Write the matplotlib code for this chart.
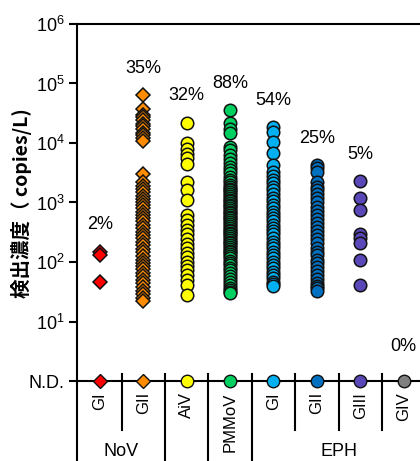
import matplotlib.pyplot as plt
import matplotlib.transforms as mtransforms
import numpy as np

plt.rcParams['font.family'] = ['Liberation Sans', 'DejaVu Sans']
plt.rcParams['mathtext.default'] = 'regular'

# detected concentrations (copies/L); N.D. samples are drawn at 10^0
nov_gi = [150, 132, 46]
nov_gii = [64000, 37000, 30000, 27000, 24000, 21000, 19000, 17000, 15000, 13500,
           12000, 11000,
           3000, 2200, 1900, 1700, 1500, 1300, 1150, 1000, 900, 800, 700, 620, 550,
           480, 420, 370, 320, 280, 250, 220, 190, 165, 145, 125, 110, 95, 85, 75,
           66, 58, 50, 44, 38, 33, 29, 25, 22]
aiv = [22000, 10000, 8000, 6500, 5500, 4500, 2200, 1600, 1100, 620, 500, 420, 350,
       290, 240, 200, 170, 140, 120, 100, 85, 72, 60, 50, 41, 28]
pmmov = [36000, 22000, 17000, 15000, 8700, 7500, 6300, 5400, 4600, 4000, 3500,
         3100, 2700, 2400, 2200, 2000, 1850, 1700, 1600, 1500, 1400, 1300, 1200,
         1120, 1050, 980, 920, 860, 800, 750, 700, 660, 620, 580, 540, 500, 470,
         440, 410, 380, 350, 330, 310, 290, 270, 250, 235, 220, 205, 190, 178, 165,
         155, 145, 135, 125, 115, 105, 95, 88, 80, 72, 65, 58, 52, 46, 41, 37, 34,
         31, 30]
eph_gi = [18600, 15500, 10500, 6700, 4300, 3300, 2800, 2400, 2100, 1800, 1600,
          1400, 1200, 1050, 920, 800, 700, 620, 550, 480, 420, 370, 330, 290, 250,
          220, 195, 170, 150, 130, 115, 100, 88, 78, 68, 60, 53, 47, 42, 39]
eph_gii = [4300, 3800, 3300, 2250, 1850, 1600, 1400, 1200, 1000, 850, 720, 620,
           530, 450, 390, 330, 280, 240, 205, 175, 150, 130, 110, 95, 82, 70, 60,
           52, 45, 40, 36, 33]
eph_giii = [2300, 1180, 740, 300, 250, 205, 107, 41]
eph_giv = []

series = [nov_gi, nov_gii, aiv, pmmov, eph_gi, eph_gii, eph_giii, eph_giv]
cat_labels = ['GI', 'GII', 'AiV', 'PMMoV', 'GI', 'GII', 'GIII', 'GIV']
pct_labels = ['2%', '35%', '32%', '88%', '54%', '25%', '5%', '0%']
colors = ['#ff0000', '#ff8c00', '#ffff00', '#00d060', '#00b0f0', '#0070c0',
          '#5b48b8', '#808080']
markers = ['D', 'D', 'o', 'o', 'o', 'o', 'o', 'o']
groups = [('NoV', -0.53, 1.5), ('EPH', 3.5, 7.5)]

fig = plt.figure(figsize=(4.2, 4.61), dpi=100)
ax = fig.add_axes([0.1833, 0.1735, 0.881, 0.7745])
ax.set_yscale('log')
ax.set_ylim(1, 1e6)
ax.set_xlim(-0.53, 8.0)

for i, vals in enumerate(series):
    ms = 7.2 if markers[i] == 'D' else 9
    if vals:
        ax.plot(np.full(len(vals), i), vals, linestyle='none', marker=markers[i],
                ms=ms, mfc=colors[i], mec='#111111', mew=1.1, zorder=3)
        top = max(vals) * 10 ** 0.45
    else:
        top = 10 ** 0.58
    # N.D. marker on the baseline
    ax.plot([i], [1], linestyle='none', marker=markers[i], ms=ms, mfc=colors[i],
            mec='#111111', mew=1.0, zorder=4, clip_on=False)
    ax.text(i, top, pct_labels[i], ha='center', va='center', fontsize=13)

ax.set_yticks([1, 1e1, 1e2, 1e3, 1e4, 1e5, 1e6])
ax.set_yticklabels(['N.D.'] + [f'$10^{{{k}}}$' for k in range(1, 7)])
ax.yaxis.set_minor_locator(plt.NullLocator())
ax.tick_params(axis='y', direction='out', length=6, width=1.5, labelsize=13, pad=3)

ax.set_xticks(range(len(cat_labels)))
ax.set_xticklabels(cat_labels, rotation=90, va='top', fontsize=12)
ax.tick_params(axis='x', length=0, pad=8)

ax.spines['right'].set_visible(False)
for side in ['left', 'bottom', 'top']:
    ax.spines[side].set_linewidth(1.5)

# separators under the baseline
trans = mtransforms.blended_transform_factory(ax.transData, ax.transAxes)
short_seps = [0.5, 4.5, 5.5, 6.5]
long_seps = [-0.53, 1.5, 2.5, 3.5, 7.5]
for x in short_seps:
    ax.plot([x, x], [0.02, -0.137], transform=trans, color='black', lw=1.5,
            clip_on=False)
for x in long_seps:
    ax.plot([x, x], [0.0, -0.3], transform=trans, color='black', lw=1.5,
            clip_on=False)
for x in [1.5, 2.5, 3.5]:
    ax.plot([x, x], [0.0, 0.02], transform=trans, color='black', lw=1.5,
            clip_on=False)

for name, x0, x1 in groups:
    ax.text((x0 + x1) / 2, -0.175, name, transform=trans, ha='center', va='top',
            fontsize=13)

fig.text(0.052, 0.56, '検出濃度（ copies/L)', rotation=90, ha='center', va='center',
         fontsize=14, fontweight='bold',
         family=['Noto Sans CJK JP', 'DejaVu Sans'])

fig.savefig('out.png', dpi=100)
